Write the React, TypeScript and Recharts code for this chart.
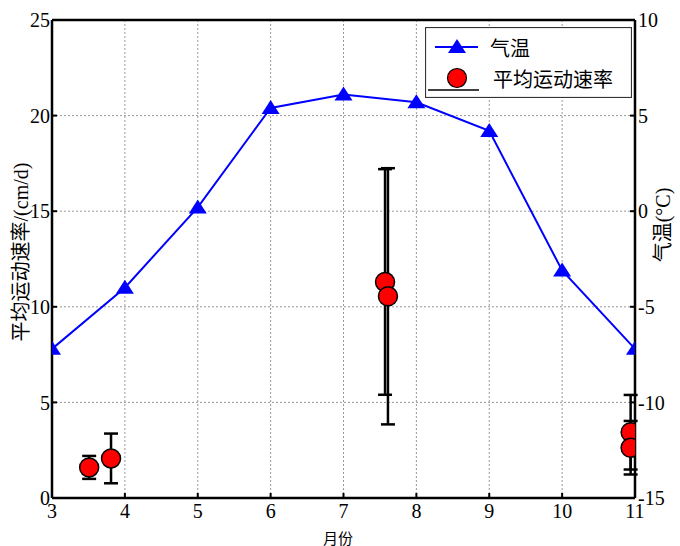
import { ComposedChart, Line, Scatter, ErrorBar, XAxis, YAxis, CartesianGrid, Legend, ReferenceLine } from 'recharts';

// month ticks on the x axis
const months = [3, 4, 5, 6, 7, 8, 9, 10, 11];
// air temperature, right axis (°C)
const temperature = [-7.2, -4.0, 0.2, 5.4, 6.1, 5.7, 4.2, -3.1, -7.2];
// mean movement rate, left axis (cm/d)
const rateMonth = [3.51, 3.81, 7.57, 7.61, 10.94, 10.94];
const rateValue = [1.6, 2.07, 11.3, 10.55, 3.44, 2.63];
const rateError = [0.6, 1.3, 5.9, 6.7, 1.95, 1.4];

const leftTicks = [0, 5, 10, 15, 20, 25];
const rightTicks = [-15, -10, -5, 0, 5, 10];

const tempData = months.map((m, i) => ({ month: m, temp: temperature[i] }));
const rateData = rateMonth.map((m, i) => ({ month: m, rate: rateValue[i], err: rateError[i] }));

const FONT = "'Liberation Serif', 'Times New Roman', 'Noto Sans CJK SC', serif";
const CJK = "'Noto Sans CJK SC', 'Liberation Serif', sans-serif";

const tickStyle = { fontSize: 20, fill: '#000', fontFamily: FONT };
const axisLine = { stroke: '#000', strokeWidth: 2.5 };
const tickLine = { stroke: '#000', strokeWidth: 2 };

function Triangle(props: any) {
    const { cx, cy } = props;
    if (cx == null || cy == null) return null;
    return <polygon points={`${cx},${cy - 8} ${cx - 9},${cy + 6} ${cx + 9},${cy + 6}`} fill="#0000ff" />;
}

function RedDot(props: any) {
    const { cx, cy } = props;
    return <circle cx={cx} cy={cy} r={9.5} fill="#ff0000" stroke="#000" strokeWidth={1.5} />;
}

function renderLegend() {
    return (
        <svg width={207} height={71} style={{ display: 'block' }}>
            <rect x={0.5} y={0.5} width={206} height={70} fill="#fff" stroke="#333" strokeWidth={1.2} />
            <line x1={10} y1={20} x2={53} y2={20} stroke="#0000ff" strokeWidth={2} />
            <polygon points="32,12 23,26 41,26" fill="#0000ff" />
            <text x={65} y={20} dominantBaseline="central" fontSize={20} fontFamily={CJK} fill="#000">气温</text>
            <line x1={3} y1={63} x2={54} y2={63} stroke="#000" strokeWidth={1.5} />
            <circle cx={32} cy={51} r={9.5} fill="#ff0000" stroke="#000" strokeWidth={1.2} />
            <text x={68} y={51} dominantBaseline="central" fontSize={20} fontFamily={CJK} fill="#000">平均运动速率</text>
        </svg>
    );
}

const leftLabel = () => (
    <text x={21} y={252} transform="rotate(-90 21 252)" textAnchor="middle" dominantBaseline="central"
        fontSize={20} fontFamily={FONT} fill="#000">平均运动速率/(cm/d)</text>
);

const rightLabel = () => (
    <text x={663} y={225} transform="rotate(-90 663 225)" textAnchor="middle" dominantBaseline="central"
        fontSize={20} fontFamily={FONT} fill="#000">气温(°C)</text>
);

const bottomLabel = () => (
    <text x={338} y={537} textAnchor="middle" dominantBaseline="central"
        fontSize={15} fontFamily={CJK} fill="#000">月份</text>
);

export default function App() {
    return (
        <div style={{ position: 'absolute', left: 0, top: 0, background: '#fff' }}>
            <ComposedChart width={680} height={546} margin={{ top: 20, right: 0, bottom: 18, left: 0 }}>
                <CartesianGrid yAxisId="left" stroke="#999" strokeDasharray="2 2" />
                <XAxis
                    dataKey="month"
                    type="number"
                    domain={[3, 11]}
                    ticks={months}
                    height={30}
                    tick={tickStyle}
                    tickSize={-5}
                    tickMargin={11}
                    axisLine={axisLine}
                    tickLine={tickLine}
                    label={bottomLabel}
                    allowDataOverflow
                />
                <YAxis
                    yAxisId="left"
                    orientation="left"
                    type="number"
                    domain={[0, 25]}
                    ticks={leftTicks}
                    width={52}
                    tick={tickStyle}
                    tickSize={-5}
                    tickMargin={7}
                    axisLine={axisLine}
                    tickLine={tickLine}
                    label={leftLabel}
                    allowDataOverflow
                />
                <YAxis
                    yAxisId="right"
                    orientation="right"
                    type="number"
                    domain={[-15, 10]}
                    ticks={rightTicks}
                    width={45}
                    tick={{ ...tickStyle, textAnchor: 'start' }}
                    tickSize={-5}
                    tickMargin={8}
                    axisLine={axisLine}
                    tickLine={tickLine}
                    label={rightLabel}
                    allowDataOverflow
                />
                <ReferenceLine yAxisId="left" y={25} stroke="#000" strokeWidth={2.5} />
                <Line
                    yAxisId="right"
                    data={tempData}
                    dataKey="temp"
                    name="气温"
                    stroke="#0000ff"
                    strokeWidth={2}
                    dot={<Triangle />}
                    activeDot={false}
                    isAnimationActive={false}
                />
                <Scatter
                    yAxisId="left"
                    data={rateData}
                    dataKey="rate"
                    name="平均运动速率"
                    shape={<RedDot />}
                    isAnimationActive={false}
                >
                    <ErrorBar dataKey="err" direction="y" width={7} stroke="#000" strokeWidth={2.5} />
                </Scatter>
                <Legend
                    content={renderLegend}
                    layout="horizontal"
                    verticalAlign="middle"
                    wrapperStyle={{ position: 'absolute', left: 425, top: 27, width: 207, height: 71 }}
                />
            </ComposedChart>
        </div>
    );
}
